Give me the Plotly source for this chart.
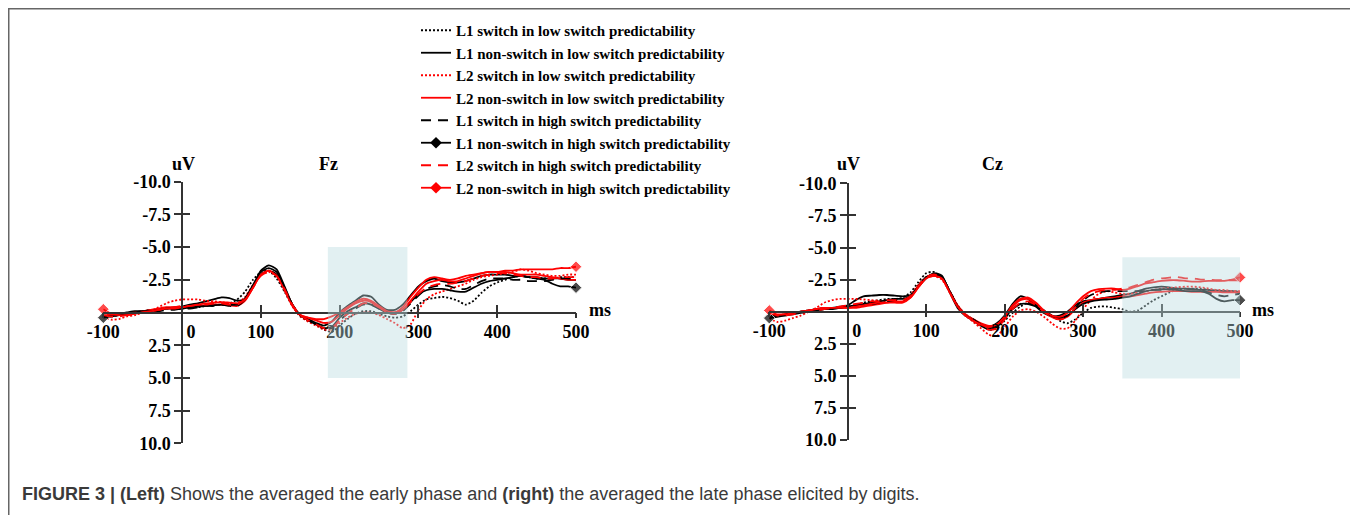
import plotly.graph_objects as go

# the page body adds an 8 px margin, so the figure is drawn 8 px in and 8 px smaller
OFF = 8
W, H = 1358 - OFF, 515 - OFF
SERIF = "Liberation Serif, Times New Roman, serif"
SANS = "Liberation Sans, Arial, sans-serif"

# time axis of the averaged waveforms (ms), one sample every 10 ms
time_ms = list(range(-100, 501, 10))

series_names = [
    "L1 switch in low switch predictability",
    "L1 non-switch in low switch predictability",
    "L2 switch in low switch predictability",
    "L2 non-switch in low switch predictability",
    "L1 switch in high switch predictability",
    "L1 non-switch in high switch predictability",
    "L2 switch in high switch predictability",
    "L2 non-switch in high switch predictability",
]

# ---- Fz (uV, negative plotted upwards) ----
fz_l1_switch_low = [
    0.3, 0.3, 0.2, 0.1, 0.0, -0.1, -0.2, -0.2, -0.3, -0.3,
    -0.3, -0.4, -0.4, -0.5, -0.6, -0.6, -0.7, -1.0, -1.6, -2.5,
    -3.1, -3.2, -2.6, -1.6, -0.5, 0.3, 0.6, 0.9, 1.3, 1.5,
    1.0, 0.5, 0.1, -0.1, -0.1, 0.1, 0.3, 0.4, 0.3, -0.1,
    -0.6, -1.0, -1.1, -1.2, -1.1, -0.9, -0.6, -0.9, -1.5, -2.0,
    -2.3, -2.5, -2.7, -2.8, -2.7, -2.6, -2.6, -2.6, -2.7, -2.7,
    -2.7]
fz_l1_nonswitch_low = [
    0.2, 0.2, 0.1, 0.0, -0.1, -0.1, -0.2, -0.2, -0.3, -0.4,
    -0.45, -0.6, -0.7, -0.85, -1.0, -1.15, -1.1, -0.9, -1.0, -2.0,
    -3.2, -3.6, -3.3, -2.0, -0.6, 0.2, 0.5, 0.8, 1.0, 0.7,
    0.0, -0.5, -0.9, -1.3, -1.2, -0.6, -0.2, -0.2, -0.6, -1.3,
    -2.0, -2.4, -2.6, -2.4, -2.3, -2.3, -2.4, -2.6, -2.8, -2.9,
    -2.9, -2.9, -2.8, -2.8, -2.7, -2.7, -2.6, -2.6, -2.6, -2.5,
    -2.5]
fz_l2_switch_low = [
    0.3, 0.55, 0.5, 0.3, 0.2, 0.0, -0.1, -0.4, -0.7, -0.9,
    -1.0, -1.0, -1.0, -0.9, -0.85, -0.8, -0.7, -0.7, -1.2, -2.1,
    -2.9, -3.1, -2.8, -1.8, -0.5, 0.3, 0.7, 1.0, 1.3, 1.3,
    0.8, 0.4, 0.1, 0.0, 0.0, 0.2, 0.5, 0.8, 1.2, 0.9,
    -0.2, -1.0, -1.4, -1.6, -1.8, -2.0, -2.2, -2.5, -2.7, -2.8,
    -2.9, -3.0, -3.1, -3.3, -3.2, -3.0, -2.9, -2.8, -2.8, -2.9,
    -2.9]
fz_l2_nonswitch_low = [
    0.1, 0.2, 0.2, 0.1, 0.0, -0.1, -0.2, -0.3, -0.4, -0.4,
    -0.4, -0.5, -0.5, -0.55, -0.6, -0.6, -0.55, -0.5, -0.9, -1.9,
    -2.9, -3.2, -2.9, -1.8, -0.6, 0.2, 0.4, 0.5, 0.5, 0.3,
    0.0, -0.4, -0.8, -1.05, -0.9, -0.5, -0.1, 0.0, -0.4, -1.2,
    -1.9, -2.5, -2.7, -2.6, -2.5, -2.6, -2.8, -2.9, -3.0, -3.1,
    -3.1, -3.1, -3.0, -2.9, -2.9, -2.9, -2.8, -2.7, -2.6, -2.5,
    -2.5]
fz_l1_switch_high = [
    0.3, 0.3, 0.2, 0.1, 0.0, 0.0, -0.1, -0.1, -0.2, -0.2,
    -0.3, -0.3, -0.4, -0.5, -0.5, -0.6, -0.5, -0.5, -1.0, -2.0,
    -2.9, -3.2, -2.9, -1.8, -0.6, 0.2, 0.6, 0.9, 1.2, 1.2,
    0.6, 0.1, -0.3, -0.6, -0.6, -0.3, 0.0, 0.1, -0.1, -0.7,
    -1.3, -1.8, -2.0, -2.1, -2.0, -1.8, -1.8, -2.1, -2.4, -2.6,
    -2.6, -2.6, -2.5, -2.5, -2.4, -2.4, -2.4, -2.5, -2.6, -2.6,
    -2.6]
fz_l1_nonswitch_high = [
    0.4, 0.3, 0.2, 0.1, 0.0, -0.1, -0.1, -0.2, -0.3, -0.3,
    -0.3, -0.4, -0.45, -0.5, -0.55, -0.6, -0.6, -0.6, -1.1, -2.1,
    -3.1, -3.4, -3.1, -1.9, -0.6, 0.2, 0.6, 0.9, 1.2, 1.1,
    0.4, -0.1, -0.4, -0.7, -0.6, -0.3, 0.0, 0.1, -0.2, -0.8,
    -1.4, -1.7, -1.8, -1.8, -1.7, -1.6, -1.6, -1.9, -2.2, -2.4,
    -2.5, -2.6, -2.7, -2.8, -2.7, -2.6, -2.5, -2.2, -2.0, -2.0,
    -1.9]
fz_l2_switch_high = [
    0.2, 0.3, 0.3, 0.2, 0.1, 0.0, -0.1, -0.2, -0.3, -0.4,
    -0.5, -0.5, -0.6, -0.6, -0.7, -0.7, -0.6, -0.6, -1.0, -1.9,
    -2.8, -3.1, -2.8, -1.8, -0.6, 0.2, 0.6, 0.9, 1.2, 1.2,
    0.6, 0.1, -0.3, -0.7, -0.7, -0.4, -0.1, 0.0, -0.2, -0.8,
    -1.4, -1.9, -2.1, -2.2, -2.2, -2.3, -2.4, -2.6, -2.8, -2.9,
    -3.0, -3.0, -2.9, -2.8, -2.7, -2.7, -2.6, -2.6, -2.7, -2.7,
    -2.7]
fz_l2_nonswitch_high = [
    -0.25, 0.1, 0.2, 0.2, 0.1, 0.0, -0.1, -0.2, -0.3, -0.3,
    -0.4, -0.5, -0.6, -0.7, -0.75, -0.8, -0.75, -0.7, -1.0, -1.9,
    -2.9, -3.2, -2.8, -1.7, -0.5, 0.2, 0.4, 0.6, 0.8, 0.7,
    0.2, -0.3, -0.7, -0.9, -0.8, -0.4, 0.0, 0.1, -0.2, -0.9,
    -1.6, -2.2, -2.4, -2.5, -2.4, -2.4, -2.6, -2.8, -3.0, -3.1,
    -3.1, -3.2, -3.2, -3.3, -3.3, -3.3, -3.3, -3.3, -3.4, -3.4,
    -3.5]

# ---- Cz ----
cz_l1_switch_low = [
    0.2, 0.3, 0.2, 0.1, 0.0, -0.1, -0.2, -0.2, -0.3, -0.3,
    -0.4, -0.5, -0.7, -0.8, -0.9, -1.0, -1.0, -1.1, -1.5, -2.3,
    -3.0, -3.1, -2.6, -1.6, -0.5, 0.2, 0.6, 1.0, 1.4, 1.3,
    0.7, 0.1, -0.4, -0.7, -0.5, -0.1, 0.3, 0.7, 0.9, 0.6,
    0.1, -0.3, -0.4, -0.4, -0.3, -0.2, 0.0, -0.1, -0.5, -0.9,
    -1.2, -1.5, -1.7, -1.8, -1.8, -1.8, -1.7, -1.6, -1.6, -1.6,
    -1.55]
cz_l1_nonswitch_low = [
    0.3, 0.3, 0.2, 0.1, 0.0, -0.1, -0.2, -0.3, -0.3, -0.4,
    -0.5, -0.9, -1.2, -1.25, -1.3, -1.3, -1.25, -1.2, -1.3, -1.95,
    -2.6, -3.0, -2.8, -1.5, -0.3, 0.3, 0.6, 1.0, 1.2, 0.9,
    0.3, -0.6, -1.2, -1.0, -0.4, 0.1, 0.35, 0.3, 0.0, -0.5,
    -0.8, -0.9, -1.0, -1.1, -1.2, -1.3, -1.4, -1.6, -1.8, -1.9,
    -1.95, -1.9, -1.8, -1.8, -1.75, -1.7, -1.7, -1.65, -1.6, -1.6,
    -1.55]
cz_l2_switch_low = [
    0.5, 0.8, 0.7, 0.5, 0.3, 0.0, -0.3, -0.7, -0.9, -1.0,
    -1.0, -1.0, -0.95, -0.9, -0.85, -0.8, -0.8, -0.8, -1.3, -2.1,
    -2.7, -2.8, -2.5, -1.5, -0.4, 0.3, 0.8, 1.3, 1.8, 1.9,
    1.2, 0.4, -0.1, -0.2, 0.0, 0.4, 0.9, 1.3, 1.3, 0.7,
    -0.2, -0.9, -1.4, -1.6, -1.5, -1.4, -1.4, -1.5, -1.6, -1.7,
    -1.8, -1.85, -1.9, -1.95, -1.95, -1.9, -1.8, -1.7, -1.7, -1.6,
    -1.6]
cz_l2_nonswitch_low = [
    0.2, 0.3, 0.2, 0.1, 0.0, -0.1, -0.2, -0.3, -0.3, -0.3,
    -0.3, -0.3, -0.4, -0.5, -0.6, -0.7, -0.8, -0.8, -1.1, -1.9,
    -2.6, -2.8, -2.6, -1.6, -0.5, 0.2, 0.6, 0.9, 1.1, 1.0,
    0.4, -0.4, -0.9, -1.0, -0.6, 0.0, 0.4, 0.6, 0.4, -0.2,
    -0.7, -0.9, -1.0, -1.1, -1.1, -1.2, -1.2, -1.3, -1.4, -1.5,
    -1.55, -1.6, -1.6, -1.6, -1.55, -1.55, -1.55, -1.55, -1.5, -1.5,
    -1.5]
cz_l1_switch_high = [
    0.3, 0.3, 0.2, 0.1, 0.0, 0.0, -0.1, -0.2, -0.3, -0.3,
    -0.4, -0.5, -0.6, -0.6, -0.7, -0.8, -0.9, -0.9, -1.2, -2.0,
    -2.7, -2.9, -2.7, -1.6, -0.4, 0.3, 0.6, 1.0, 1.3, 1.1,
    0.5, -0.2, -0.6, -0.7, -0.5, -0.1, 0.3, 0.5, 0.3, -0.3,
    -0.9, -1.3, -1.5, -1.6, -1.6, -1.6, -1.6, -1.6, -1.6, -1.7,
    -1.7, -1.75, -1.8, -1.8, -1.75, -1.7, -1.5, -1.3, -1.2, -1.3,
    -1.4]
cz_l1_nonswitch_high = [
    0.5, 0.4, 0.3, 0.2, 0.1, 0.0, -0.1, -0.2, -0.2, -0.3,
    -0.4, -0.5, -0.6, -0.7, -0.8, -0.9, -1.0, -1.0, -1.2, -2.0,
    -2.7, -2.9, -2.7, -1.6, -0.4, 0.3, 0.7, 1.1, 1.4, 1.2,
    0.5, -0.2, -0.6, -0.6, -0.4, 0.0, 0.3, 0.5, 0.3, -0.2,
    -0.6, -0.8, -0.9, -0.95, -1.0, -1.1, -1.2, -1.4, -1.6, -1.7,
    -1.75, -1.75, -1.7, -1.6, -1.6, -1.6, -1.4, -1.0, -0.8, -0.9,
    -0.9]
cz_l2_switch_high = [
    0.1, 0.3, 0.3, 0.2, 0.1, 0.0, -0.1, -0.2, -0.3, -0.4,
    -0.5, -0.6, -0.7, -0.8, -0.8, -0.9, -0.9, -0.9, -1.2, -2.0,
    -2.7, -2.9, -2.6, -1.5, -0.4, 0.3, 0.7, 1.1, 1.4, 1.3,
    0.6, -0.2, -0.7, -0.8, -0.5, 0.0, 0.4, 0.6, 0.4, -0.3,
    -1.0, -1.4, -1.6, -1.7, -1.7, -1.8, -1.9, -2.1, -2.3, -2.5,
    -2.6, -2.65, -2.7, -2.6, -2.6, -2.5, -2.5, -2.45, -2.45, -2.45,
    -2.45]
cz_l2_nonswitch_high = [
    -0.1, 0.2, 0.2, 0.1, 0.0, -0.1, -0.2, -0.3, -0.3, -0.3,
    -0.3, -0.4, -0.5, -0.6, -0.7, -0.7, -0.7, -0.7, -1.1, -1.9,
    -2.6, -2.8, -2.6, -1.5, -0.4, 0.3, 0.7, 1.0, 1.2, 1.0,
    0.4, -0.5, -1.0, -1.1, -0.7, -0.1, 0.3, 0.4, 0.1, -0.6,
    -1.2, -1.6, -1.75, -1.8, -1.8, -1.7, -1.8, -2.0, -2.2, -2.3,
    -2.4, -2.45, -2.45, -2.4, -2.35, -2.35, -2.4, -2.4, -2.4, -2.5,
    -2.67]

fz_series = [fz_l1_switch_low, fz_l1_nonswitch_low, fz_l2_switch_low, fz_l2_nonswitch_low,
             fz_l1_switch_high, fz_l1_nonswitch_high, fz_l2_switch_high, fz_l2_nonswitch_high]
cz_series = [cz_l1_switch_low, cz_l1_nonswitch_low, cz_l2_switch_low, cz_l2_nonswitch_low,
             cz_l1_switch_high, cz_l1_nonswitch_high, cz_l2_switch_high, cz_l2_nonswitch_high]

x_tick_vals = [-100, 0, 100, 200, 300, 400, 500]
x_tick_text = ["-100", "\u00a0\u00a0\u00a0\u00a00", "100", "200", "300", "400", "500"]
y_tick_vals = [-10, -7.5, -5, -2.5, 2.5, 5, 7.5, 10]
y_tick_text = ["-10.0", "-7.5", "-5.0", "-2.5", "2.5", "5.0", "7.5", "10.0"]

# analysis windows (ms, uV)
fz_window = dict(t0=185, t1=286, v0=-5.0, v1=5.0)
cz_window = dict(t0=350, t1=500, v0=-4.25, v1=5.2)

# line style per condition: (colour, dash, diamonds at the ends)
styles = [
    ("black", "2px,2px", False),
    ("black", "solid", False),
    ("red", "2px,2px", False),
    ("red", "solid", False),
    ("black", "10px,7px", False),
    ("black", "solid", True),
    ("red", "10px,7px", False),
    ("red", "solid", True),
]


def px(x):
    return (x - OFF) / W


def py(y):
    return 1 - (y - OFF) / H


# panel geometry in screen pixels: (-100 ms, 500 ms) and (-10 uV, +10 uV)
panels = [
    dict(name="Fz", data=fz_series, window=fz_window, xs=(103.3, 576.0), ys=(181.7, 443.3),
         ax="", ov="3", uv_x=184, title_x=328, ms_x=600),
    dict(name="Cz", data=cz_series, window=cz_window, xs=(769.3, 1240.0), ys=(183.3, 440.1),
         ax="2", ov="4", uv_x=848, title_x=992, ms_x=1263),
]

fig = go.Figure()
tick_font = dict(family=SERIF, size=18, color="black", weight="bold")
label_font = dict(family=SERIF, size=18, color="black", weight="bold")
annotations = []
shapes = []

# legend entries (no data, only the symbol of each condition)
for name, (color, dash, diamonds) in zip(series_names, styles):
    fig.add_trace(go.Scatter(
        x=[None], y=[None], name=name, legendgroup=name,
        mode="lines+markers" if diamonds else "lines",
        line=dict(color=color, width=1.8, dash=dash),
        marker=dict(symbol="diamond", size=9, color=color),
    ))

for p in panels:
    xa = "x" + p["ax"]
    ya = "y" + p["ax"]
    for vals, name, (color, dash, diamonds) in zip(p["data"], series_names, styles):
        n = len(vals)
        sizes = [9] + [0] * (n - 2) + [9] if diamonds else 0
        fig.add_trace(go.Scatter(
            x=time_ms, y=vals, name=name, legendgroup=name, showlegend=False,
            mode="lines+markers" if diamonds else "lines",
            line=dict(color=color, width=1.8, dash=dash, shape="spline", smoothing=0.6),
            marker=dict(symbol="diamond", size=sizes, color=color),
            cliponaxis=False, xaxis=xa, yaxis=ya, hoverinfo="skip",
        ))
    # empty trace that carries the overlay axes (inner half of the cross ticks)
    fig.add_trace(go.Scatter(x=[], y=[], xaxis="x" + p["ov"], yaxis="y" + p["ov"],
                             showlegend=False, hoverinfo="skip"))

    xd = [px(p["xs"][0]), px(p["xs"][1])]
    yd = [py(p["ys"][1]), py(p["ys"][0])]
    x_pos = (yd[0] + yd[1]) / 2
    y_pos = xd[0] + (xd[1] - xd[0]) / 6

    common_x = dict(domain=xd, range=[-100, 500], anchor="free", position=x_pos,
                    tickmode="array", tickvals=x_tick_vals, showgrid=False, zeroline=False,
                    automargin=False, tickwidth=1.5, tickcolor="#333")
    common_y = dict(domain=yd, range=[10, -10], anchor="free", position=y_pos,
                    tickmode="array", tickvals=y_tick_vals, showgrid=False, zeroline=False,
                    automargin=False, ticklen=7, tickwidth=1.5, tickcolor="#333")
    fig.update_layout({
        "xaxis" + p["ax"]: dict(common_x, ticktext=x_tick_text, ticks="outside", ticklen=5,
                                showline=True, linecolor="#333", linewidth=1.5,
                                tickfont=tick_font, ticklabelstandoff=-2),
        "yaxis" + p["ax"]: dict(common_y, ticktext=y_tick_text, ticks="outside",
                                showline=True, linecolor="#333", linewidth=1.5,
                                tickfont=tick_font, ticklabelstandoff=0),
        "xaxis" + p["ov"]: dict(common_x, ticks="inside", ticklen=8,
                                overlaying="x" + p["ax"], showticklabels=False, showline=False),
        "yaxis" + p["ov"]: dict(common_y, ticks="inside", overlaying="y" + p["ax"],
                                showticklabels=False, showline=False),
    })

    w = p["window"]
    shapes.append(dict(type="rect", xref=xa, yref=ya, x0=w["t0"], x1=w["t1"],
                       y0=w["v0"], y1=w["v1"], layer="above", line=dict(width=0),
                       fillcolor="rgb(186,219,224)", opacity=0.42))

    for text, x, y in [("uV", p["uv_x"], 164), (p["name"], p["title_x"], 164), ("ms", p["ms_x"], 310)]:
        annotations.append(dict(text=text, x=px(x), y=py(y), xref="paper", yref="paper",
                                xanchor="center", yanchor="middle", showarrow=False,
                                font=label_font))

# figure frame
shapes.append(dict(type="rect", xref="paper", yref="paper", x0=px(8.5), x1=px(1354.5),
                   y0=-0.1, y1=py(8.5), line=dict(color="#666", width=2), layer="below"))

annotations.append(dict(
    text="<b>FIGURE 3 | (Left)</b> Shows the averaged the early phase and <b>(right)</b> "
         "the averaged the late phase elicited by digits.",
    x=px(20), y=py(494), xref="paper", yref="paper", xanchor="left", yanchor="middle",
    showarrow=False, font=dict(family=SANS, size=18, color="#3a3a3a")))

fig.update_layout(
    width=W, height=H, margin=dict(l=0, r=0, t=0, b=0),
    paper_bgcolor="white", plot_bgcolor="rgba(0,0,0,0)",
    showlegend=True,
    legend=dict(x=px(416), y=py(14), xanchor="left", yanchor="top",
                bgcolor="rgba(0,0,0,0)", traceorder="normal",
                font=dict(family=SERIF, size=15, color="black", weight="bold")),
    shapes=shapes, annotations=annotations,
)

fig.write_html("out.html")
